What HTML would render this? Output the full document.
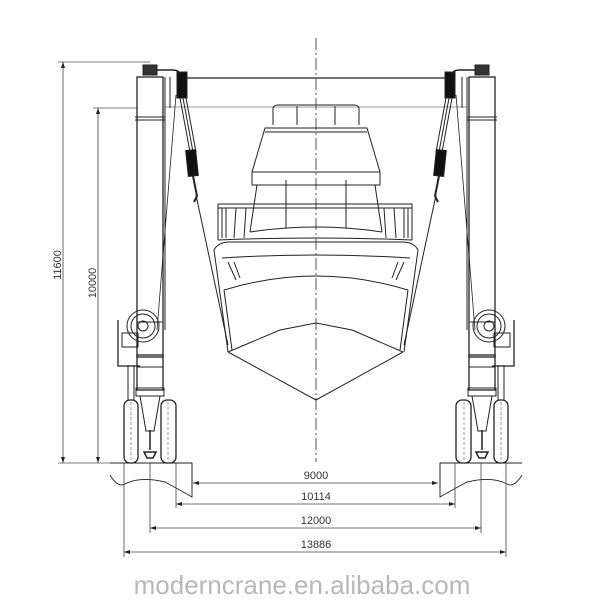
<!DOCTYPE html>
<html><head><meta charset="utf-8"><style>
html,body{margin:0;padding:0;background:#fff;width:600px;height:600px;overflow:hidden}
svg{display:block}
text{font-family:"Liberation Sans",sans-serif;fill:#333}
</style></head><body>
<svg width="600" height="600" viewBox="0 0 600 600" xmlns="http://www.w3.org/2000/svg">
<g stroke="#222" fill="none" stroke-width="1">
<!-- vertical dims -->
<line x1="63" y1="62" x2="63" y2="463" stroke="#444" stroke-width="0.8"/>
<line x1="98" y1="108" x2="98" y2="463" stroke="#444" stroke-width="0.8"/>
<line x1="58" y1="62" x2="150" y2="62" stroke="#555" stroke-width="0.7"/>
<line x1="93" y1="108" x2="137" y2="108" stroke="#555" stroke-width="0.7"/>
<line x1="58" y1="463" x2="120" y2="463" stroke="#555" stroke-width="0.7"/>
<path d="M63 62 l-2 6 h4z M63 463 l-2 -6 h4z M98 108 l-2 6 h4z M98 463 l-2 -6 h4z" fill="#222" stroke="none"/>
<!-- beam lines -->
<line x1="185" y1="78" x2="447" y2="78" stroke-width="1.3"/>
<line x1="165" y1="107" x2="467" y2="107" stroke="#777" stroke-width="0.8"/>
<!-- centerline -->
<line x1="316" y1="38" x2="316" y2="462" stroke="#444" stroke-width="0.9" stroke-dasharray="12,3,2,3"/>

<!-- left crane -->
<g id="crane">
<rect x="137" y="77" width="26" height="280" stroke-width="1.3"/>
<line x1="165" y1="77" x2="165" y2="330"/>
<line x1="170" y1="77" x2="170" y2="108"/>
<line x1="135" y1="117" x2="165" y2="117"/>
<line x1="135" y1="120" x2="165" y2="120"/>
<rect x="143" y="65" width="14" height="10" fill="#333"/>
<path d="M157 70 h16 q6 0 8 5" stroke-width="1.5"/>
<rect x="177" y="72" width="10" height="26" fill="#111"/>
<line x1="180" y1="98" x2="190" y2="152"/><line x1="183" y1="98" x2="193" y2="152"/><line x1="186" y1="98" x2="196" y2="152"/>
<rect x="187" y="150" width="10" height="26" fill="#111" transform="rotate(-6 192 163)"/>
<path d="M193 176 l4 20 l-3 6" stroke-width="2"/>
<line x1="196" y1="195" x2="228" y2="345"/>
<line x1="176" y1="95" x2="157" y2="330" stroke-width="0.8"/>
<circle cx="143" cy="326" r="16"/>
<circle cx="143" cy="326" r="12"/>
<circle cx="143" cy="326" r="5"/>
<rect x="137" y="322" width="26" height="45"/>
<path d="M118 320 v46 h22" stroke-width="1.3"/>
<rect x="122" y="333" width="16" height="14"/>
<rect x="137" y="355" width="26" height="35" stroke-width="1.3"/>
<rect x="136" y="388" width="28" height="8"/>
<path d="M140 396 l6 35 h8 l6 -35"/>
<line x1="128" y1="365" x2="128" y2="400"/><line x1="134" y1="365" x2="134" y2="400"/>
<rect x="124" y="400" width="14" height="63" rx="6" stroke-width="1.3"/>
<rect x="161" y="400" width="15" height="63" rx="6" stroke-width="1.3"/>
<line x1="131" y1="402" x2="131" y2="461" stroke="#999" stroke-dasharray="3,2"/>
<line x1="168" y1="402" x2="168" y2="461" stroke="#999" stroke-dasharray="3,2"/>
<path d="M150 430 v20 M144 452 h12 l-3 6 h-6z" stroke-width="1.5"/>
<!-- ground block -->
<path d="M110 463 H192 V497 Q180 490 165 482 Q140 476 125 484 Q118 488 110 475" stroke-width="0.9"/>
<line x1="192" y1="463" x2="192" y2="488" />
</g>
<use href="#crane" transform="matrix(-1,0,0,1,632,0)"/>

<!-- boat -->
<path d="M273 125 V108 Q274 105 278 105 H354 Q358 105 359 108 V125"/>
<line x1="297" y1="106" x2="297" y2="125"/><line x1="335" y1="106" x2="335" y2="125"/>
<path d="M265 128 L252 172 V185 H380 V172 L367 128 Z"/>
<line x1="265" y1="132" x2="367" y2="132"/>
<line x1="252" y1="172" x2="380" y2="172"/>
<path d="M257 185 L250 232 M375 185 L382 232"/>
<line x1="286" y1="180" x2="286" y2="228"/><line x1="346" y1="180" x2="346" y2="228"/>
<path d="M218 204 H412 V240 M218 204 V240"/>
<line x1="218" y1="208" x2="412" y2="208"/>
<line x1="222" y1="208" x2="222" y2="238"/><line x1="226" y1="208" x2="226" y2="238"/><line x1="236" y1="208" x2="234" y2="238"/><line x1="246" y1="208" x2="244" y2="238"/>
<line x1="408" y1="208" x2="408" y2="238"/><line x1="404" y1="208" x2="404" y2="238"/><line x1="394" y1="208" x2="396" y2="238"/><line x1="384" y1="208" x2="386" y2="238"/>
<path d="M250 232 Q316 222 382 232"/>
<path d="M218 240 Q316 236 412 240"/>
<path d="M214 250 Q218 242 230 242 H402 Q414 242 418 250"/>
<path d="M214 250 L228 352 M418 250 L404 352"/>
<path d="M222 258 Q316 252 410 258"/>
<path d="M224 290 Q316 262 408 290"/>
<path d="M224 290 L232 350 M408 290 L400 350"/>
<path d="M228 352 L280 330 L316 323 L352 330 L403 352"/>
<path d="M228 352 L316 400 L403 352"/>
<path d="M228 262 l8 18 M234 262 l6 16 M404 262 l-8 18 M398 262 l-6 16"/>

<!-- horizontal dims -->
<g stroke="#444" stroke-width="0.8">
<line x1="193" y1="483" x2="438" y2="483"/>
<line x1="176" y1="504" x2="455" y2="504"/>
<line x1="150" y1="528" x2="481" y2="528"/>
<line x1="124" y1="552" x2="506" y2="552"/>
<line x1="176" y1="463" x2="176" y2="508"/><line x1="455" y1="463" x2="455" y2="508"/>
<line x1="150" y1="463" x2="150" y2="533"/><line x1="481" y1="463" x2="481" y2="533"/>
<line x1="124" y1="463" x2="124" y2="557"/><line x1="506" y1="463" x2="506" y2="557"/>
</g>
<path d="M193 483 l6 -2 v4z M438 483 l-6 -2 v4z M176 504 l6 -2 v4z M455 504 l-6 -2 v4z M150 528 l6 -2 v4z M481 528 l-6 -2 v4z M124 552 l6 -2 v4z M506 552 l-6 -2 v4z" fill="#222" stroke="none"/>
</g>
<g font-size="11" text-anchor="middle">
<text x="316" y="479">9000</text>
<text x="316" y="500">10114</text>
<text x="316" y="524">12000</text>
<text x="316" y="548">13886</text>
<text transform="translate(61 265) rotate(-90)">11600</text>
<text transform="translate(96 283) rotate(-90)">10000</text>
</g>
<text x="302" y="594" font-size="26" text-anchor="middle" style="fill:#b8b8b8">moderncrane.en.alibaba.com</text>
</svg>
</body></html>
